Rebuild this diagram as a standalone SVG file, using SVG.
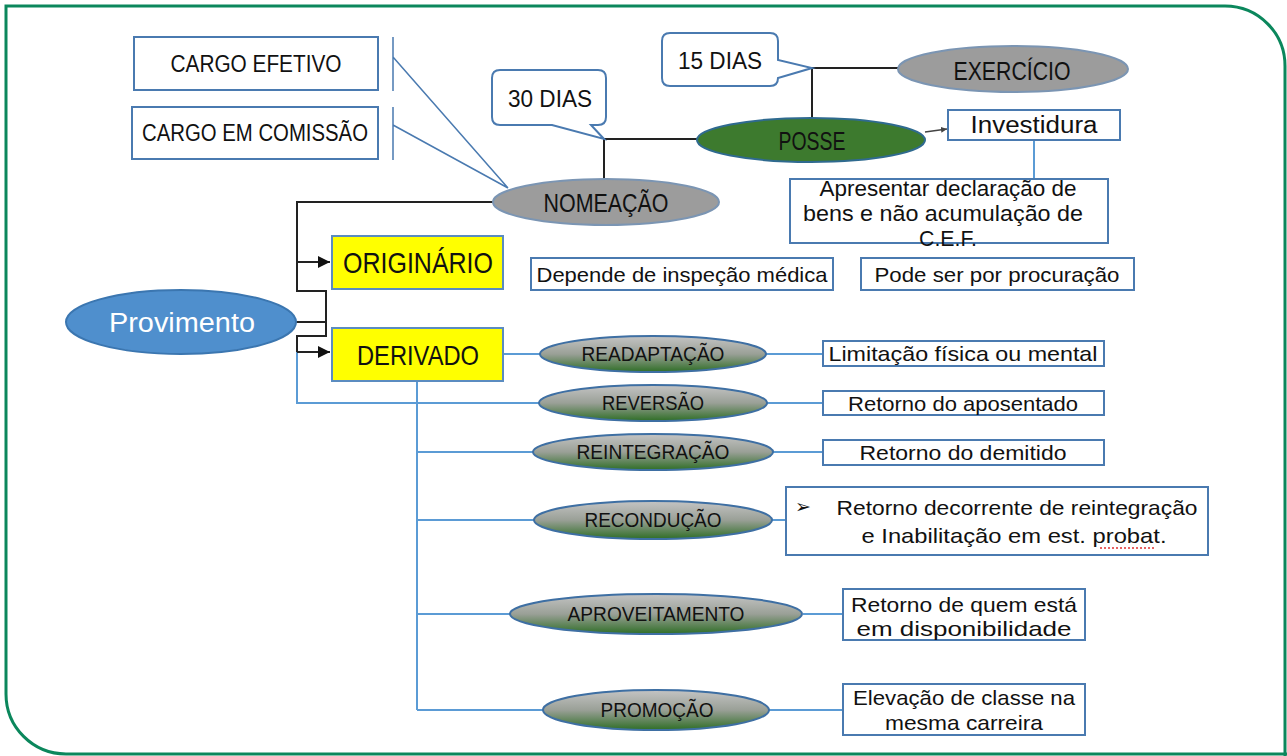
<svg xmlns="http://www.w3.org/2000/svg" width="1287" height="756" viewBox="0 0 1287 756">
<defs>
<style>
text{font-family:"Liberation Sans","DejaVu Sans",sans-serif;fill:#111;text-anchor:middle}
.box{fill:#fff;stroke:#4a7ab0;stroke-width:2}
.yel{fill:#ffff00;stroke:#5b8cc0;stroke-width:2}
.gray{fill:#9c9c9c;stroke:#7b95b3;stroke-width:2}
.grn{fill:url(#gg);stroke:#3e6fa3;stroke-width:2}
.blk{fill:none;stroke:#222;stroke-width:2}
.blu{fill:none;stroke:#5b9bd5;stroke-width:2}
.thin{fill:none;stroke:#4a7ab0;stroke-width:1.5}
</style>
<linearGradient id="gg" x1="0" y1="0" x2="0" y2="1">
<stop offset="0" stop-color="#c4c4c4"/>
<stop offset="0.5" stop-color="#9aa097"/>
<stop offset="1" stop-color="#2f6e26"/>
</linearGradient>
<marker id="ah" viewBox="0 0 10 10" refX="10" refY="5" markerWidth="6" markerHeight="6" orient="auto" markerUnits="strokeWidth">
<path d="M0,0 L10,5 L0,10 Z" fill="#111"/>
</marker>
<marker id="ahs" viewBox="0 0 10 10" refX="10" refY="5" markerWidth="4" markerHeight="4" orient="auto" markerUnits="strokeWidth">
<path d="M0,0 L10,5 L0,10 Z" fill="#444"/>
</marker>
</defs>
<rect width="1287" height="756" fill="#fff"/>
<path d="M1285 760 V66 A60 60 0 0 0 1225 6 H6 V694 A60 60 0 0 0 66 754 H1290" fill="none" stroke="#0b875c" stroke-width="3"/>

<g id="connectors">
<path class="thin" d="M393 37 V91 M393 107 V160 M393 57 L508 188 M393 125 L508 188"/>
<path class="blk" d="M604 139 H700 M604 139 V180"/>
<path class="blk" d="M812 68 H898 M812 68 V118"/>
<path d="M925 132 L947 129" fill="none" stroke="#444" stroke-width="1.5" marker-end="url(#ahs)"/>
<path class="blu" d="M1034 140 V179"/>
<path class="blk" d="M493 202 H297 V291 H326 V336 H297 V352"/>
<path class="blk" d="M295 322 H326"/>
<path class="blu" d="M297 352 V403 H540"/>
<path class="blu" d="M297 352 H320"/>
<path class="blk" d="M297 262 H330" marker-end="url(#ah)"/>
<path class="blk" d="M297 352 H330" marker-end="url(#ah)"/>
<path class="blu" d="M503 354 H540"/>
<path class="blu" d="M417 381 V710 M417 452 H533 M417 520 H534 M417 614 H510 M417 710 H543"/>
<path class="blu" d="M766 354 H823 M767 403 H823 M773 452 H823 M772 520 H786 M803 614 H843 M768 710 H843"/>
</g>

<g id="cargo-efetivo"><rect class="box" x="134" y="37" width="244" height="53"/><text x="256" y="72" font-size="23" textLength="171" lengthAdjust="spacingAndGlyphs">CARGO EFETIVO</text></g>
<g id="cargo-comissao"><rect class="box" x="132" y="107" width="246" height="52"/><text x="255" y="141" font-size="23" textLength="226" lengthAdjust="spacingAndGlyphs">CARGO EM COMISSÃO</text></g>

<g id="dias30"><path class="box" d="M500 70 H598 Q606 70 606 78 V117 Q606 125 598 125 H591 L604 139 L552 125 H500 Q492 125 492 117 V78 Q492 70 500 70 Z"/><text x="550" y="107" font-size="24" textLength="84" lengthAdjust="spacingAndGlyphs">30 DIAS</text></g>
<g id="dias15"><path class="box" d="M670 33 H770 Q778 33 778 41 V60 L812 68 L778 78 Q778 86 770 86 H670 Q662 86 662 78 V41 Q662 33 670 33 Z"/><text x="720" y="69" font-size="24" textLength="84" lengthAdjust="spacingAndGlyphs">15 DIAS</text></g>

<g id="nomeacao"><ellipse class="gray" cx="606" cy="202" rx="113" ry="23"/><text x="606" y="212" font-size="25" textLength="125" lengthAdjust="spacingAndGlyphs">NOMEAÇÃO</text></g>
<g id="posse"><ellipse cx="811" cy="140" rx="114" ry="22" fill="#3d7a2e" stroke="#2f6a8f" stroke-width="2"/><text x="812" y="150" font-size="25" textLength="67" lengthAdjust="spacingAndGlyphs">POSSE</text></g>
<g id="exercicio"><ellipse class="gray" cx="1013" cy="69" rx="115" ry="23"/><text x="1012" y="80" font-size="25" textLength="117" lengthAdjust="spacingAndGlyphs">EXERCÍCIO</text></g>
<g id="investidura"><rect class="box" x="948" y="110" width="172" height="30"/><text x="1034" y="133" font-size="23" textLength="127" lengthAdjust="spacingAndGlyphs">Investidura</text></g>
<g id="declaracao"><rect class="box" x="790" y="179" width="318" height="64"/>
<text x="948" y="196" font-size="22" textLength="257" lengthAdjust="spacingAndGlyphs">Apresentar declaração de</text>
<text x="943" y="221" font-size="22" textLength="280" lengthAdjust="spacingAndGlyphs">bens e não acumulação de</text>
<text x="948" y="246" font-size="22" textLength="58" lengthAdjust="spacingAndGlyphs">C.E.F.</text></g>
<g id="inspecao"><rect class="box" x="531" y="258" width="302" height="32"/><text x="682" y="282" font-size="21" textLength="291" lengthAdjust="spacingAndGlyphs">Depende de inspeção médica</text></g>
<g id="procuracao"><rect class="box" x="861" y="258" width="273" height="32"/><text x="997" y="282" font-size="21" textLength="245" lengthAdjust="spacingAndGlyphs">Pode ser por procuração</text></g>

<g id="provimento"><ellipse cx="181" cy="322" rx="115" ry="32" fill="#4f8fcd" stroke="#3b76b0" stroke-width="2"/><text x="182" y="332" font-size="27" style="fill:#fff" textLength="146" lengthAdjust="spacingAndGlyphs">Provimento</text></g>
<g id="originario"><rect class="yel" x="332" y="236" width="171" height="53"/><text x="418" y="273" font-size="29" textLength="150" lengthAdjust="spacingAndGlyphs">ORIGINÁRIO</text></g>
<g id="derivado"><rect class="yel" x="332" y="328" width="171" height="53"/><text x="418" y="365" font-size="28" textLength="122" lengthAdjust="spacingAndGlyphs">DERIVADO</text></g>

<g id="readaptacao"><ellipse class="grn" cx="653" cy="354" rx="113" ry="18"/><text x="653" y="361" font-size="20" textLength="143" lengthAdjust="spacingAndGlyphs">READAPTAÇÃO</text></g>
<g id="reversao"><ellipse class="grn" cx="653" cy="403" rx="114" ry="18"/><text x="653" y="410" font-size="20" textLength="102" lengthAdjust="spacingAndGlyphs">REVERSÃO</text></g>
<g id="reintegracao"><ellipse class="grn" cx="653" cy="452" rx="120" ry="18"/><text x="653" y="459" font-size="20" textLength="153" lengthAdjust="spacingAndGlyphs">REINTEGRAÇÃO</text></g>
<g id="reconducao"><ellipse class="grn" cx="653" cy="520" rx="119" ry="19"/><text x="653" y="527" font-size="20" textLength="137" lengthAdjust="spacingAndGlyphs">RECONDUÇÃO</text></g>
<g id="aproveitamento"><ellipse class="grn" cx="656" cy="614" rx="146" ry="20"/><text x="656" y="621" font-size="20" textLength="177" lengthAdjust="spacingAndGlyphs">APROVEITAMENTO</text></g>
<g id="promocao"><ellipse class="grn" cx="656" cy="710" rx="113" ry="20"/><text x="657" y="717" font-size="20" textLength="113" lengthAdjust="spacingAndGlyphs">PROMOÇÃO</text></g>

<g id="limitacao"><rect class="box" x="823" y="341" width="281" height="25"/><text x="963" y="361" font-size="21" textLength="269" lengthAdjust="spacingAndGlyphs">Limitação física ou mental</text></g>
<g id="aposentado"><rect class="box" x="823" y="391" width="281" height="24"/><text x="963" y="411" font-size="21" textLength="230" lengthAdjust="spacingAndGlyphs">Retorno do aposentado</text></g>
<g id="demitido"><rect class="box" x="823" y="440" width="281" height="25"/><text x="963" y="460" font-size="21" textLength="207" lengthAdjust="spacingAndGlyphs">Retorno do demitido</text></g>
<g id="decorrente"><rect class="box" x="786" y="487" width="422" height="68"/>
<text x="803" y="513" font-size="19" style="font-family:'DejaVu Sans',sans-serif">➢</text>
<text x="1017" y="515" font-size="21" textLength="361" lengthAdjust="spacingAndGlyphs">Retorno decorrente de reintegração</text>
<text x="1014" y="543" font-size="21" textLength="305" lengthAdjust="spacingAndGlyphs">e Inabilitação em est. probat.</text>
<path d="M1100 548 H1155" stroke="#e03030" stroke-width="1.5" stroke-dasharray="2 2" fill="none"/></g>
<g id="disponibilidade"><rect class="box" x="843" y="589" width="242" height="51"/>
<text x="964" y="612" font-size="21" textLength="226" lengthAdjust="spacingAndGlyphs">Retorno de quem está</text>
<text x="964" y="636" font-size="21" textLength="215" lengthAdjust="spacingAndGlyphs">em disponibilidade</text></g>
<g id="elevacao"><rect class="box" x="843" y="684" width="242" height="51"/>
<text x="964" y="705" font-size="21" textLength="222" lengthAdjust="spacingAndGlyphs">Elevação de classe na</text>
<text x="964" y="730" font-size="21" textLength="158" lengthAdjust="spacingAndGlyphs">mesma carreira</text></g>
</svg>
